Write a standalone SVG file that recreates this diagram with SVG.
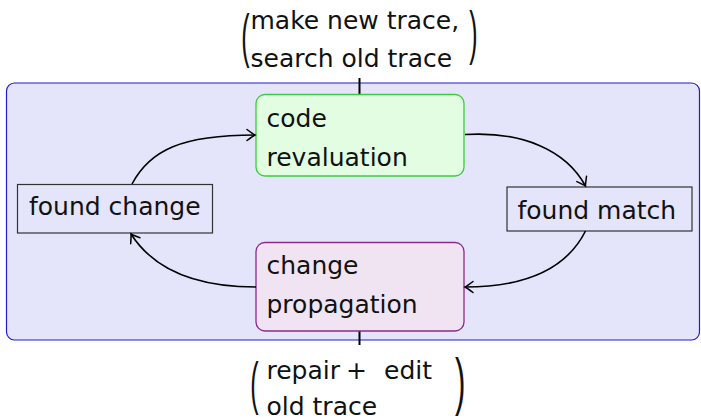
<svg xmlns="http://www.w3.org/2000/svg" width="701" height="419" viewBox="0 0 701 419">
  <style>
    .t { font-family: "DejaVu Sans", "Liberation Sans", sans-serif; font-size: 25px; fill: #111; }
    .p { font-family: "Liberation Sans", "DejaVu Sans", sans-serif; font-size: 25px; fill: #111; }
    .edge { fill: none; stroke: #000; stroke-width: 1.6; }
    .plain { fill: none; stroke: #333; stroke-width: 1.2; }
  </style>
  <defs>
    <marker id="tip" markerUnits="userSpaceOnUse" markerWidth="16" markerHeight="16" viewBox="-10 -8 12 16" refX="0" refY="0" orient="auto">
      <path d="M-8,-5.5 Q-2,-1 0,0 Q-2,1 -8,5.5" fill="none" stroke="#000" stroke-width="1.5" stroke-linecap="round"/>
    </marker>
  </defs>

  <!-- background panel -->
  <rect id="panel" x="6.5" y="83" width="693" height="257" rx="8" fill="#e4e4fa" stroke="#1e1ecc" stroke-width="1.2"/>

  <!-- ticks to the annotations -->
  <g id="ticks">
    <line x1="359.5" y1="78" x2="359.5" y2="94.5" stroke="#000" stroke-width="2"/>
    <line x1="359.5" y1="331" x2="359.5" y2="345" stroke="#000" stroke-width="2"/>
  </g>

  <!-- top annotation -->
  <g id="note-top">
    <text class="p" transform="translate(241.3,55.8) scale(1,2.35)">(</text>
    <text class="t" x="250.5" y="28.5">make new trace,</text>
    <text class="t" x="250.5" y="66.5">search old trace</text>
    <text class="p" transform="translate(469.3,52.5) scale(1,2.35)">)</text>
  </g>

  <!-- bottom annotation -->
  <g id="note-bottom">
    <text class="p" transform="translate(250.3,402.5) scale(1,2.3)">(</text>
    <text class="t" x="266.5" y="378.5">repair</text>
    <text class="t" x="346" y="378.5">+</text>
    <text class="t" x="384" y="378.5">edit</text>
    <text class="t" x="266.5" y="414.5">old trace</text>
    <text class="p" transform="translate(455,402.5) scale(1.25,2.5)">)</text>
  </g>

  <g id="code-revaluation">
    <rect x="256" y="94.5" width="208" height="81.5" rx="9" fill="#e3fde3" stroke="#3ccc3c" stroke-width="1.3"/>
    <text class="t" x="266.5" y="126.5">code</text>
    <text class="t" x="266.5" y="166">revaluation</text>
  </g>

  <g id="change-propagation">
    <rect x="256" y="242.5" width="208" height="88.5" rx="9" fill="#f0e4f3" stroke="#8a2a8a" stroke-width="1.3"/>
    <text class="t" x="266.5" y="273.5">change</text>
    <text class="t" x="266.5" y="312.5">propagation</text>
  </g>

  <g id="found-change">
    <rect class="plain" x="17.5" y="184.5" width="195" height="48.5"/>
    <text class="t" x="29" y="214.5">found change</text>
  </g>

  <g id="found-match">
    <rect class="plain" x="507" y="187" width="185" height="44"/>
    <text class="t" x="517.5" y="218.5">found match</text>
  </g>

  <g id="connectors">
    <path class="edge" d="M132,184 C150,150 182,135 255,135" marker-end="url(#tip)"/>
    <path class="edge" d="M465,134.5 C522,131 566,150 585.5,186" marker-end="url(#tip)"/>
    <path class="edge" d="M585.5,231 C566,270 525,287 465,287" marker-end="url(#tip)"/>
    <path class="edge" d="M256,287 C195,287 154,270 131,234" marker-end="url(#tip)"/>
  </g>
</svg>
